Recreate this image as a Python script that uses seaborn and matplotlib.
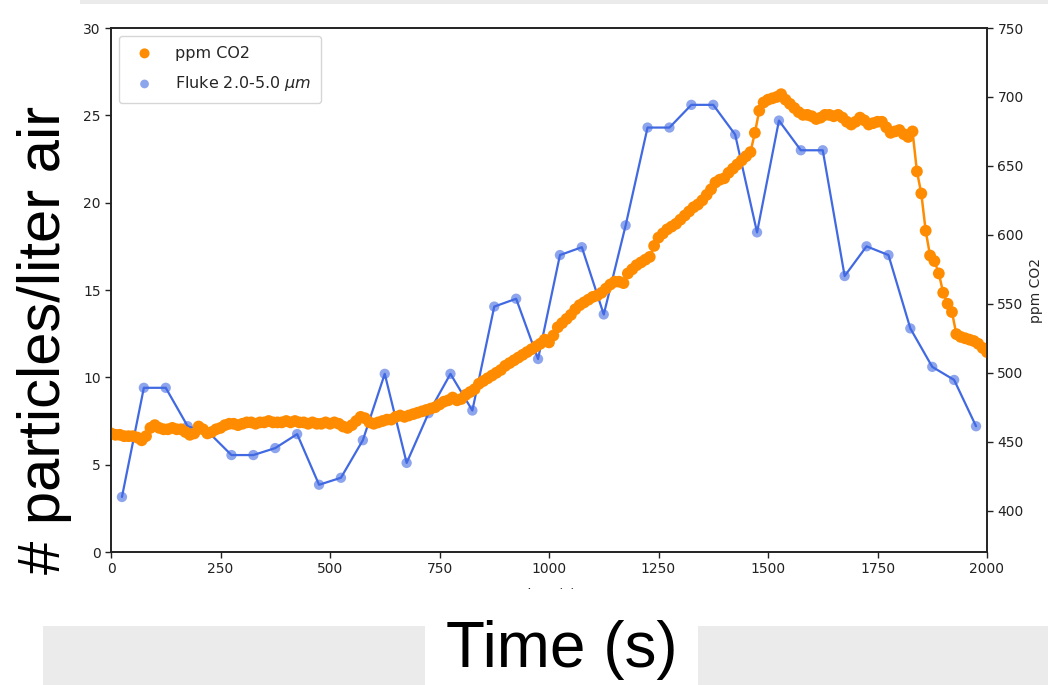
import numpy as np
import pandas as pd
import matplotlib
matplotlib.use("Agg")
import matplotlib.pyplot as plt
from matplotlib.patches import Rectangle
import seaborn as sns

# Fluke particle counter, 2.0-5.0 um channel (particles per liter of air)
fluke_time = [25, 75, 125, 175, 225, 275, 325, 375, 425, 475,
              525, 575, 625, 675, 725, 775, 825, 875, 925, 975,
              1025, 1075, 1125, 1175, 1225, 1275, 1325, 1375, 1425, 1475,
              1525, 1575, 1625, 1675, 1725, 1775, 1825, 1875, 1925, 1975]
fluke_counts = [3.15, 9.4, 9.4, 7.2, 6.8, 5.55, 5.55, 5.95, 6.75, 3.85,
                4.25, 6.4, 10.2, 5.1, 7.95, 10.2, 8.1, 14.05, 14.5, 11.05,
                17.0, 17.45, 13.6, 18.7, 24.3, 24.3, 25.6, 25.6, 23.9, 18.3,
                24.7, 23.0, 23.0, 15.8, 17.5, 17.0, 12.8, 10.6, 9.85, 7.2]

# CO2 sensor, logged every 10 s
co2_time = np.arange(0, 2001, 10)
co2_ppm = [
    456, 455, 455, 454, 454, 454, 453, 451, 454, 460,
    462, 460, 459, 459, 460, 459, 459, 457, 455, 456,
    461, 459, 456, 457, 459, 460, 462, 463, 463, 462,
    463, 464, 464, 463, 464, 464, 465, 464, 464, 464,
    465, 464, 465, 464, 464, 463, 464, 463, 463, 464,
    463, 464, 463, 461, 460, 462, 465, 468, 467, 464,
    463, 464, 465, 466, 466, 468, 469, 468, 469, 470,
    471, 472, 473, 474, 475, 477, 479, 480, 482, 480,
    481, 484, 486, 488, 492, 494, 496, 498, 500, 502,
    505, 507, 509, 511, 513, 515, 517, 519, 521, 524,
    522, 527, 533, 536, 539, 542, 546, 549, 551, 553,
    555, 556, 558, 561, 564, 566, 566, 565, 572, 575,
    578, 580, 582, 584, 592, 598, 601, 604, 606, 608,
    611, 614, 617, 620, 622, 625, 629, 633, 638, 640,
    641, 645, 648, 651, 654, 657, 660, 674, 690, 696,
    698, 699, 700, 702, 698, 695, 692, 689, 687, 687,
    686, 684, 685, 687, 687, 686, 687, 685, 682, 680,
    682, 685, 683, 680, 681, 682, 682, 678, 674, 675,
    676, 673, 671, 675, 646, 630, 603, 585, 581, 572,
    558, 550, 544, 528, 526, 525, 524, 523, 521, 518,
    515,
]

x_ticks = [0, 250, 500, 750, 1000, 1250, 1500, 1750, 2000]
left_ticks = [0, 5, 10, 15, 20, 25, 30]
right_ticks = [400, 450, 500, 550, 600, 650, 700, 750]

fluke_df = pd.DataFrame({"t": fluke_time, "count": fluke_counts})
co2_df = pd.DataFrame({"t": co2_time, "ppm": co2_ppm})

sns.set_theme(style="ticks")
plt.rcParams["font.family"] = ["DejaVu Sans"]
plt.rcParams["axes.edgecolor"] = "#222222"
plt.rcParams["axes.linewidth"] = 1.2

W, H = 1048, 685
fig = plt.figure(figsize=(W / 100, H / 100), dpi=100)
ax = fig.add_axes([111 / W, 1 - 552 / H, 876 / W, 524 / H])
ax2 = ax.twinx()

blue = "royalblue"
orange = "darkorange"

# particle counts on the left axis
sns.lineplot(data=fluke_df, x="t", y="count", ax=ax, color=blue, lw=1.6)
sns.scatterplot(data=fluke_df, x="t", y="count", ax=ax, color=blue, alpha=0.6,
                s=55, edgecolor="none", label="Fluke 2.0-5.0 $\\mu m$", legend=False)

# CO2 on the right axis
sns.lineplot(data=co2_df, x="t", y="ppm", ax=ax2, color=orange, lw=1.8)
sns.scatterplot(data=co2_df, x="t", y="ppm", ax=ax2, color=orange, s=72,
                edgecolor="none", label="ppm CO2", legend=False)

ax.set_xlim(0, 2000)
ax.set_ylim(0, 30)
ax2.set_ylim(370, 750)
ax.set_xticks(x_ticks)
ax.set_yticks(left_ticks)
ax2.set_yticks(right_ticks)
for a in (ax, ax2):
    a.tick_params(labelsize=10, length=4, width=1.0, colors="#222222")
    for s in a.spines.values():
        s.set_visible(True)
        s.set_color("#222222")
        s.set_linewidth(1.2)

ax.set_xlabel("time (s)", fontsize=10, labelpad=8)
ax.set_ylabel("")
ax2.set_ylabel("ppm CO2", fontsize=10)

h1, l1 = ax.get_legend_handles_labels()
h2, l2 = ax2.get_legend_handles_labels()
leg = ax2.legend(h2 + h1, l2 + l1, loc="upper left", fontsize=11.5,
                 frameon=True, labelspacing=0.85, borderpad=0.6,
                 handletextpad=0.9, fancybox=True, markerscale=0.85)
leg.get_frame().set_edgecolor("#cccccc")

# slide overlay: white strip under the plot, grey bars and large labels
fig.patches.append(Rectangle((0, 0), 1, (H - 589) / H, transform=fig.transFigure,
                             facecolor="white", edgecolor="none", zorder=3))
grey = "#ebebeb"
fig.patches.append(Rectangle((80 / W, 1 - 4 / H), 1 - 80 / W, 4 / H,
                             transform=fig.transFigure, facecolor=grey,
                             edgecolor="none", zorder=4))
fig.patches.append(Rectangle((43 / W, 0), (425 - 43) / W, (H - 626) / H,
                             transform=fig.transFigure, facecolor=grey,
                             edgecolor="none", zorder=4))
fig.patches.append(Rectangle((698 / W, 0), (W - 698) / W, (H - 626) / H,
                             transform=fig.transFigure, facecolor=grey,
                             edgecolor="none", zorder=4))

fig.text(45 / W, 1 - 340 / H, "# particles/liter air", rotation=90,
         fontsize=43, family=["Liberation Sans", "DejaVu Sans"],
         ha="center", va="center", color="black", zorder=10)
fig.text(562 / W, 1 - 667 / H, "Time (s)", fontsize=46,
         family=["Liberation Sans", "DejaVu Sans"],
         ha="center", va="baseline", color="black", zorder=10)

fig.savefig("out.png", dpi=100)
